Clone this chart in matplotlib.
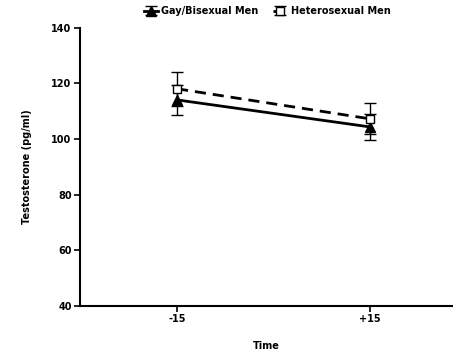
import matplotlib
matplotlib.use("Agg")
import matplotlib.pyplot as plt

times = ["-15", "+15"]
gay_mean = [114.0, 104.3]
gay_err = [5.5, 4.7]
het_mean = [118.0, 107.2]
het_err = [6.2, 5.6]
yticks = [40, 60, 80, 100, 120, 140]

plt.rcParams['font.family'] = ['DejaVu Sans']
plt.rcParams['font.weight'] = 'bold'

fig = plt.figure(figsize=(4.53, 3.54), dpi=100)
ax = fig.add_axes([80/453, 1-306/354, (452-80)/453, (306-27.5)/354])

x = list(range(len(times)))
ax.errorbar(x, gay_mean, yerr=gay_err, color='black', lw=2, marker='^', ms=6.5,
            mfc='black', mec='black', capsize=4, elinewidth=1, capthick=1,
            label='Gay/Bisexual Men', zorder=3)
ax.errorbar(x, het_mean, yerr=het_err, color='black', lw=2, ls='--', dashes=(4, 2.5),
            marker='s', ms=5.5, mfc='white', mec='black', mew=1, capsize=4,
            elinewidth=1, capthick=1, label='Heterosexual Men', zorder=4)

ax.set_xlim(-0.503, 1.425)
ax.set_ylim(40, 140)
ax.set_xticks(x)
ax.set_xticklabels(times)
ax.set_yticks(yticks)
ax.spines['top'].set_visible(False)
ax.spines['right'].set_visible(False)
ax.spines['left'].set_linewidth(1.5)
ax.spines['bottom'].set_linewidth(1.5)
ax.tick_params(axis='both', direction='out', length=4, width=1.2, labelsize=7, pad=2)
for lbl in ax.get_xticklabels() + ax.get_yticklabels():
    lbl.set_fontweight('bold')
ax.set_xlabel('Time', fontsize=7, fontweight='bold', labelpad=12)
ax.set_ylabel('Testosterone (pg/ml)', fontsize=7, fontweight='bold', labelpad=14)

h, l = ax.get_legend_handles_labels()
fig.legend(h, l, loc='upper center', bbox_to_anchor=(0.59, 1.008), ncol=2, frameon=False,
           prop={'weight': 'bold', 'size': 7}, handlelength=1.4, columnspacing=1.5,
           handletextpad=0.4)

fig.savefig('out.png', dpi=100)
